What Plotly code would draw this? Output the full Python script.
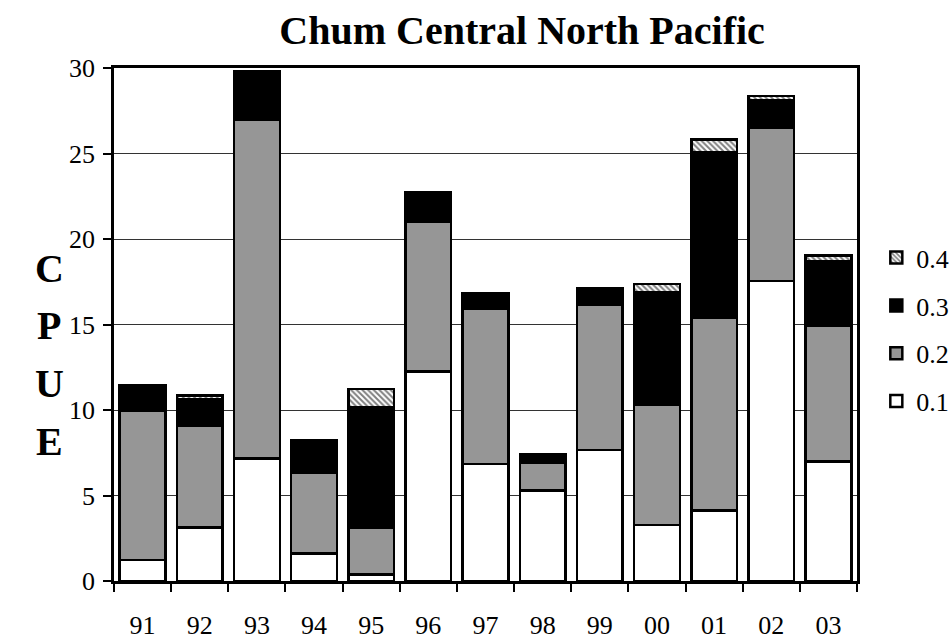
import plotly.graph_objects as go

years = ["91", "92", "93", "94", "95", "96", "97", "98", "99", "00", "01", "02", "03"]
age_01 = [1.23, 3.12, 7.15, 1.62, 0.39, 12.24, 6.85, 5.29, 7.67, 3.28, 4.12, 17.53, 6.99]
age_02 = [8.73, 5.96, 19.80, 4.69, 2.75, 8.79, 9.07, 1.64, 8.50, 7.01, 11.29, 8.99, 7.91]
age_03 = [1.48, 1.56, 2.87, 1.91, 7.01, 1.60, 0.93, 0.49, 0.95, 6.60, 9.68, 1.58, 3.80]
age_04 = [0.00, 0.20, 0.00, 0.00, 1.08, 0.10, 0.00, 0.00, 0.00, 0.47, 0.74, 0.26, 0.34]
y_ticks = [0, 5, 10, 15, 20, 25, 30]

serif = "Liberation Serif"

fig = go.Figure()
series = [
    ("0.1", age_01, dict(color="white")),
    ("0.2", age_02, dict(color="#969696")),
    ("0.3", age_03, dict(color="black")),
    ("0.4", age_04, dict(color="white", pattern=dict(shape="\\", fgcolor="black", bgcolor="white", size=4, solidity=0.5))),
]
for i, (name, vals, mk) in enumerate(series):
    mk = dict(mk)
    mk["line"] = dict(color="black", width=2.5)
    fig.add_trace(go.Bar(x=years, y=vals, name=name, marker=mk, legendgroup=name,
                         legendrank=1000 - i))

fig.update_layout(
    barmode="stack",
    bargap=0.2,
    width=951, height=641,
    margin=dict(l=114, r=94, t=68, b=60, autoexpand=False),
    paper_bgcolor="white", plot_bgcolor="white",
    font=dict(family=serif, size=26, color="black"),
    title=dict(text="<b>Chum Central North Pacific</b>", x=0.549, xanchor="center",
               y=0.953, yanchor="middle", font=dict(family=serif, size=40, color="black")),
    legend=dict(x=1.026, xanchor="left", y=0.676, yanchor="top", traceorder="grouped",
                tracegroupgap=11, font=dict(family=serif, size=26), bgcolor="rgba(0,0,0,0)",
                itemwidth=30),
    showlegend=True,
)
fig.update_xaxes(type="category", showline=True, linecolor="black", linewidth=3, mirror=True,
                 ticks="outside", ticklen=8, tickwidth=2, tickcolor="black", tickson="boundaries",
                 showgrid=False, tickfont=dict(family=serif, size=26), ticklabelstandoff=19,
                 automargin=False)
fig.update_yaxes(range=[0, 30], tickvals=y_ticks, showline=True, linecolor="black", linewidth=2.5,
                 mirror=True, ticks="outside", ticklen=8, tickwidth=2, tickcolor="black",
                 showgrid=True, gridcolor="#333333", gridwidth=1, zeroline=False,
                 tickfont=dict(family=serif, size=26), ticklabelstandoff=3, automargin=False)

for letter, ypix in zip(["C", "P", "U", "E"], [268, 325, 383, 441]):
    fig.add_annotation(text="<b>" + letter + "</b>", xref="paper", yref="paper",
                       x=(49 - 114) / 743, y=(581 - ypix) / 513, xanchor="center", yanchor="middle",
                       showarrow=False, font=dict(family=serif, size=40, color="black"))

fig.write_html("out.html", config={"displayModeBar": False},
               post_script="document.body.style.margin='0px';")
